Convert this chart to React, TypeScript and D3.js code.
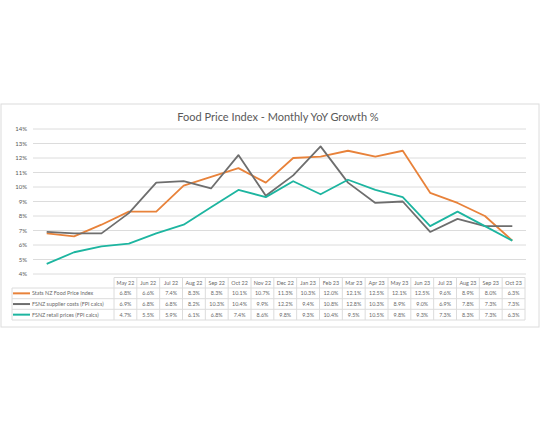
import React from "react";
import * as d3 from "d3";

const months = ["May 22","Jun 22","Jul 22","Aug 22","Sep 22","Oct 22","Nov 22","Dec 22","Jan 23","Feb 23","Mar 23","Apr 23","May 23","Jun 23","Jul 23","Aug 23","Sep 23","Oct 23"];
const statsNZ = [6.8,6.6,7.4,8.3,8.3,10.1,10.7,11.3,10.3,12.0,12.1,12.5,12.1,12.5,9.6,8.9,8.0,6.3];
const supplier = [6.9,6.8,6.8,8.2,10.3,10.4,9.9,12.2,9.4,10.8,12.8,10.3,8.9,9.0,6.9,7.8,7.3,7.3];
const retail = [4.7,5.5,5.9,6.1,6.8,7.4,8.6,9.8,9.3,10.4,9.5,10.5,9.8,9.3,7.3,8.3,7.3,6.3];
const yTicks = [4,5,6,7,8,9,10,11,12,13,14];

const seriesNames = ["Stats NZ Food Price Index","FSNZ supplier costs (FPI calcs)","FSNZ retail prices (FPI calcs)"];
const seriesColors = ["#E8823A","#6E6E6E","#1DB5A0"];

export default function App() {
  const W = 540, H = 432;
  const series = [statsNZ, supplier, retail];
  const x = d3.scalePoint<string>().domain(months).range([33, 526]).padding(0.5);
  const y = d3.scaleLinear().domain([4, 14]).range([274, 129]);
  const line = d3.line<number>().x((_, i) => x(months[i]) as number).y(d => y(d));
  const col = d3.scaleBand<string>().domain(months).range([114, 525]);
  const rowTop = [288, 298.7, 309.3];
  const rowH = 10.7;
  const headerTop = 277.5;
  const grid = "#dcdcdc";
  const txt = "#595959";
  const tableTxt = "#6a6a6a";
  const font = "Lato, 'Open Sans', sans-serif";

  return (
    <div style={{ position: "absolute", left: 0, top: 0 }}>
      <svg width={W} height={H} style={{ display: "block", background: "#fff", fontFamily: font }}>
        <rect x={1} y={104} width={538} height={223} fill="#fff" stroke={grid} strokeWidth={1} />
        <text x={278} y={121} textAnchor="middle" fontSize={11} fill={txt}>Food Price Index - Monthly YoY Growth %</text>
        {yTicks.map(t => (
          <g key={t}>
            <line x1={33} x2={526} y1={y(t)} y2={y(t)} stroke={grid} strokeWidth={1} />
            <text x={27} y={y(t)} dy="0.35em" textAnchor="end" fontSize={6} fill={txt}>{t}%</text>
          </g>
        ))}
        {series.map((s, i) => (
          <path key={i} d={line(s) || ""} fill="none" stroke={seriesColors[i]} strokeWidth={1.8} strokeLinejoin="round" />
        ))}
        {/* data table */}
        <line x1={114} x2={525} y1={headerTop} y2={headerTop} stroke={grid} />
        {[...rowTop, rowTop[2] + rowH].map((yy, i) => (
          <line key={i} x1={12} x2={525} y1={yy} y2={yy} stroke={grid} />
        ))}
        <line x1={12} x2={12} y1={rowTop[0]} y2={rowTop[2] + rowH} stroke={grid} />
        {months.map(m => (
          <line key={m} x1={col(m) as number} x2={col(m) as number} y1={headerTop} y2={rowTop[2] + rowH} stroke={grid} />
        ))}
        <line x1={525} x2={525} y1={headerTop} y2={rowTop[2] + rowH} stroke={grid} />
        {months.map(m => (
          <text key={m} x={(col(m) as number) + col.bandwidth() / 2} y={headerTop + 5.5} dy="0.35em" textAnchor="middle" fontSize={5.4} fill={tableTxt}>{m}</text>
        ))}
        {series.map((s, i) => (
          <g key={i}>
            <line x1={13} x2={30} y1={rowTop[i] + rowH / 2} y2={rowTop[i] + rowH / 2} stroke={seriesColors[i]} strokeWidth={2} />
            <text x={32} y={rowTop[i] + rowH / 2} dy="0.35em" fontSize={5.4} fill={tableTxt}>{seriesNames[i]}</text>
            {s.map((v, j) => (
              <text key={j} x={(col(months[j]) as number) + col.bandwidth() / 2} y={rowTop[i] + rowH / 2} dy="0.35em" textAnchor="middle" fontSize={5.4} fill={tableTxt}>{d3.format(".1f")(v)}%</text>
            ))}
          </g>
        ))}
      </svg>
    </div>
  );
}
